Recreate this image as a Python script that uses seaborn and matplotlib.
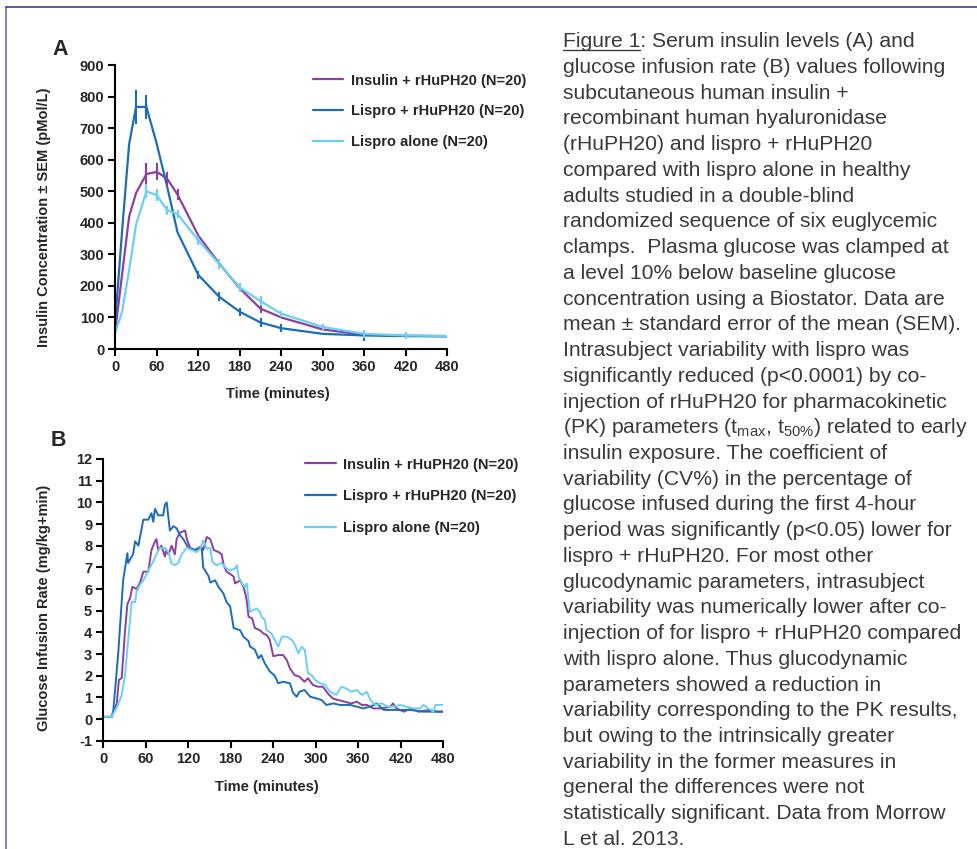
import numpy as np
import pandas as pd
import seaborn as sns
import matplotlib.pyplot as plt
from matplotlib.lines import Line2D

# Panel A: serum insulin (pMol/L) with SEM
time_a = [0, 10, 20, 30, 45, 60, 75, 90, 120, 150, 180, 210, 240, 300, 360, 420, 480]
insulin_rhu_a = [60, 240, 420, 495, 555, 562, 540, 490, 360, 272, 192, 128, 100, 62, 45, 42, 41]
lispro_rhu_a = [90, 380, 650, 768, 768, 650, 515, 370, 235, 166, 118, 84, 66, 48, 43, 41, 40]
lispro_alone_a = [52, 120, 250, 395, 500, 488, 440, 428, 345, 270, 195, 152, 112, 70, 48, 43, 41]
insulin_rhu_sem = [0, 0, 0, 0, 35, 27, 20, 17, 0, 0, 0, 15, 0, 0, 0, 0, 0]
lispro_rhu_sem = [0, 0, 0, 55, 38, 0, 0, 0, 14, 14, 13, 13, 13, 0, 18, 0, 0]
lispro_alone_sem = [0, 0, 0, 0, 22, 18, 14, 14, 15, 15, 15, 15, 10, 10, 12, 12, 0]

# Panel B: glucose infusion rate (mg/kg+min)
insulin_rhu_t = [0, 12, 14, 19, 22, 26, 30.5, 34, 38, 41, 47, 52, 56.5, 63.5, 68, 73, 75, 77.5, 82, 87,
                 89, 92, 96.5, 101, 103.5, 108, 115.5, 118, 122.5, 130, 137, 141, 146, 151, 156, 163,
                 167, 170, 174, 179, 184, 186, 193, 198, 202.5, 205, 210, 214, 221, 226, 231, 235, 240,
                 247, 254, 259, 263.5, 270, 277, 284, 289, 296, 303, 310, 317, 324, 331, 341, 350, 358,
                 365, 372, 381, 393, 405, 409, 414, 424, 435, 445, 461, 471, 480]
insulin_rhu_b = [0.1, 0.1, 0.35, 0.7, 1.8, 1.9, 4.0, 5.3, 5.6, 6.1, 6.0, 6.3, 6.8, 6.8, 7.8, 8.2, 8.3,
                 7.8, 8.0, 7.5, 7.8, 7.6, 8.0, 7.6, 8.3, 8.6, 8.7, 8.3, 7.9, 7.8, 7.95, 7.8, 8.4, 8.3,
                 7.8, 7.7, 7.6, 7.1, 6.8, 6.7, 6.57, 6.26, 6.4, 6.1, 5.5, 4.72, 4.65, 4.2, 4.1, 3.95,
                 3.87, 3.65, 2.9, 2.95, 2.95, 2.72, 2.34, 2.03, 1.95, 1.72, 1.88, 1.57, 1.49, 1.49,
                 1.18, 0.95, 0.88, 0.8, 0.72, 0.8, 0.65, 0.65, 0.49, 0.49, 0.57, 0.72, 0.49, 0.34,
                 0.49, 0.34, 0.42, 0.34, 0.34]
lispro_rhu_t = [0, 12, 14, 21, 28, 34, 35, 42, 45, 49.5, 56.5, 63.5, 68, 70.5, 73, 77.5, 84.5, 87, 89.5,
                94, 99, 103.5, 108, 113, 120, 129, 139, 141, 148.5, 151, 158, 162.5, 169.5, 174, 179,
                184, 193, 198, 205, 207, 214, 219, 223, 228, 235, 242, 247, 254, 263.5, 268, 273, 277,
                284, 292, 301, 308, 315, 325, 334, 348, 358, 367, 377, 386, 396, 414, 433, 452, 471, 480]
lispro_rhu_b = [0.1, 0.1, 0.34, 3.0, 6.4, 7.65, 7.2, 7.6, 8.2, 8.0, 9.2, 9.2, 9.5, 9.1, 9.7, 9.4, 9.4,
                9.9, 10.0, 8.7, 8.9, 8.8, 8.5, 8.3, 7.9, 7.8, 7.9, 7.0, 6.6, 6.3, 6.4, 6.1, 5.8, 5.4,
                5.2, 4.2, 4.1, 3.8, 3.6, 3.35, 3.2, 2.8, 2.95, 2.57, 2.2, 2.0, 1.65, 1.72, 1.65, 1.2,
                1.03, 1.26, 1.34, 1.03, 0.95, 0.88, 0.65, 0.72, 0.65, 0.65, 0.57, 0.49, 0.57, 0.72,
                0.42, 0.42, 0.42, 0.34, 0.34, 0.34]
lispro_alone_t = [0, 12, 20, 26, 30.5, 35, 37.5, 40, 45, 47, 52, 56.5, 61.5, 66, 71, 75, 80, 87, 92, 96,
                  101, 106, 110.5, 118, 125, 132, 136.5, 141, 146, 151, 154, 160, 167, 172, 179, 186,
                  188.5, 191, 195.5, 200, 202.5, 205, 207, 212, 216.5, 221, 223.5, 228, 230.5, 237.5,
                  242, 247, 252, 259, 266, 270.5, 275.5, 280, 284.5, 289, 294, 299, 306, 313, 320, 329,
                  336, 343, 350, 358, 365, 372, 377, 384, 393, 402.5, 410, 419, 428, 438, 447, 452,
                  459, 466, 469, 480]
lispro_alone_b = [0.1, 0.11, 0.6, 1.1, 2.0, 3.6, 4.5, 5.4, 5.4, 5.9, 6.2, 6.4, 6.7, 7.0, 7.3, 7.6, 7.9,
                  7.9, 7.7, 7.2, 7.1, 7.2, 7.6, 7.9, 7.8, 7.7, 7.85, 8.25, 7.85, 7.9, 7.25, 7.1, 7.2,
                  7.0, 6.85, 6.95, 7.1, 6.57, 6.26, 6.1, 6.26, 5.5, 4.95, 5.03, 5.1, 4.95, 4.72, 4.57,
                  4.1, 3.95, 3.65, 3.34, 3.8, 3.8, 3.65, 3.42, 3.03, 3.34, 3.18, 2.11, 2.03, 1.8, 1.65,
                  1.57, 1.26, 1.11, 1.49, 1.41, 1.26, 1.34, 1.11, 1.26, 0.88, 0.65, 0.72, 0.57, 0.57,
                  0.65, 0.57, 0.49, 0.49, 0.65, 0.49, 0.34, 0.65, 0.65]

labels = ["Insulin + rHuPH20 (N=20)", "Lispro + rHuPH20 (N=20)", "Lispro alone (N=20)"]
colors = ["#8a3fa3", "#1b6dba", "#6ccff5"]

caption = [
    "Figure 1: Serum insulin levels (A) and",
    "glucose infusion rate (B) values following",
    "subcutaneous human insulin +",
    "recombinant human hyaluronidase",
    "(rHuPH20) and lispro + rHuPH20",
    "compared with lispro alone in healthy",
    "adults studied in a double-blind",
    "randomized sequence of six euglycemic",
    "clamps.  Plasma glucose was clamped at",
    "a level 10% below baseline glucose",
    "concentration using a Biostator. Data are",
    "mean \u00b1 standard error of the mean (SEM).",
    "Intrasubject variability with lispro was",
    "significantly reduced (p<0.0001) by co-",
    "injection of rHuPH20 for pharmacokinetic",
    r"(PK) parameters ($\mathregular{t_{max}}$, $\mathregular{t_{50\%}}$) related to early",
    "insulin exposure. The coefficient of",
    "variability (CV%) in the percentage of",
    "glucose infused during the first 4-hour",
    "period was significantly (p<0.05) lower for",
    "lispro + rHuPH20. For most other",
    "glucodynamic parameters, intrasubject",
    "variability was numerically lower after co-",
    "injection of for lispro + rHuPH20 compared",
    "with lispro alone. Thus glucodynamic",
    "parameters showed a reduction in",
    "variability corresponding to the PK results,",
    "but owing to the intrinsically greater",
    "variability in the former measures in",
    "general the differences were not",
    "statistically significant. Data from Morrow",
    "L et al. 2013.",
]

sns.set_style("ticks")
plt.rcParams['font.family'] = ['Liberation Sans', 'DejaVu Sans']
plt.rcParams['mathtext.fontset'] = 'custom'
plt.rcParams['mathtext.rm'] = 'Liberation Sans'
plt.rcParams['axes.unicode_minus'] = False

W, H = 978, 849
fig = plt.figure(figsize=(W / 100, H / 100), dpi=100)
fig.patch.set_facecolor("white")

def frac(x0, y_top, x1, y_bot):
    return [x0 / W, 1 - y_bot / H, (x1 - x0) / W, (y_bot - y_top) / H]

ax_a = fig.add_axes(frac(115.3, 65.3, 447.3, 349))
ax_b = fig.add_axes(frac(103.3, 459, 443.3, 740.7))

# long tables for seaborn
df_a = pd.concat([
    pd.DataFrame({"time": time_a, "value": v, "sem": s, "group": lab})
    for v, s, lab in zip([insulin_rhu_a, lispro_rhu_a, lispro_alone_a],
                         [insulin_rhu_sem, lispro_rhu_sem, lispro_alone_sem], labels)
])
df_b = pd.concat([
    pd.DataFrame({"time": t, "value": v, "group": lab})
    for t, v, lab in zip([insulin_rhu_t, lispro_rhu_t, lispro_alone_t],
                         [insulin_rhu_b, lispro_rhu_b, lispro_alone_b], labels)
])
palette = dict(zip(labels, colors))

sns.lineplot(data=df_a, x="time", y="value", hue="group", hue_order=labels,
             palette=palette, linewidth=1.6, ax=ax_a, estimator=None, sort=False)
for lab in labels:
    d = df_a[(df_a["group"] == lab) & (df_a["sem"] > 0)]
    ax_a.errorbar(d["time"], d["value"], yerr=d["sem"], fmt="none",
                  ecolor=palette[lab], elinewidth=1.5, capsize=0)

sns.lineplot(data=df_b, x="time", y="value", hue="group", hue_order=labels,
             palette=palette, linewidth=1.4, ax=ax_b, estimator=None, sort=False)

ax_a.set_ylim(0, 900)
ax_a.set_yticks(range(0, 901, 100))
ax_b.set_ylim(-1, 12)
ax_b.set_yticks(range(-1, 13))
for ax in (ax_a, ax_b):
    ax.set_xlim(0, 480)
    ax.set_xticks(range(0, 481, 60))
    sns.despine(ax=ax)
    for s in ("left", "bottom"):
        ax.spines[s].set_linewidth(1.5)
        ax.spines[s].set_color("black")
    ax.tick_params(direction="out", length=5, width=1.5, color="black", pad=3)
    for t in ax.get_xticklabels() + ax.get_yticklabels():
        t.set_fontweight("bold")
        t.set_fontsize(10.5)
    ax.set_xlabel("Time (minutes)", fontsize=10.5, fontweight="bold")

ax_a.set_ylabel("Insulin Concentration \u00b1 SEM (pMol/L)", fontsize=10.5, fontweight="bold")
ax_b.set_ylabel("Glucose Infusion Rate (mg/kg+min)", fontsize=10.5, fontweight="bold")
ax_a.yaxis.set_label_coords(-0.195, 0.465)
ax_b.yaxis.set_label_coords(-0.155, 0.473)
ax_a.xaxis.set_label_coords(0.49, -0.135)
ax_b.xaxis.set_label_coords(0.482, -0.139)

for ax, anchor, spacing in ((ax_a, (0.595, 0.971), 1.15), (ax_b, (0.594, 1.005), 1.22)):
    leg = ax.legend(title=None, loc="upper left", bbox_to_anchor=anchor, frameon=False,
                    borderaxespad=0, borderpad=0, handlelength=2.1, handletextpad=0.5,
                    labelspacing=spacing, prop={"weight": "bold", "size": 10.5})
    for line in leg.get_lines():
        line.set_linewidth(1.6)

fig.text(52 / W, 1 - 55 / H, "A", fontsize=15.5, fontweight="bold", va="baseline")
fig.text(51 / W, 1 - 446.5 / H, "B", fontsize=15.5, fontweight="bold", va="baseline")

# caption column
x0 = 563 / W
cap_size = 15.2
renderer = fig.canvas.get_renderer()
for i, line in enumerate(caption):
    yb = 47.3 + i * 25.73
    fig.text(x0, 1 - yb / H, line, fontsize=cap_size, color="#3a3a3a", va="baseline")
    if i == 0:
        probe = fig.text(x0, 1 - yb / H, "Figure 1", fontsize=cap_size, va="baseline")
        bb = probe.get_window_extent(renderer=renderer)
        probe.remove()
        fig.add_artist(Line2D([bb.x0 / W, bb.x1 / W], [1 - (yb + 3) / H] * 2,
                              color="#3a3a3a", linewidth=1.0))

# page frame (left and top edges visible)
fig.add_artist(Line2D([6.5 / W, 6.5 / W], [0, 1 - 7 / H], color="#7f87bb", linewidth=1.5))
fig.add_artist(Line2D([6.5 / W, 1], [1 - 7 / H, 1 - 7 / H], color="#33449a", linewidth=1.2))

fig.savefig("out.png", dpi=100)
